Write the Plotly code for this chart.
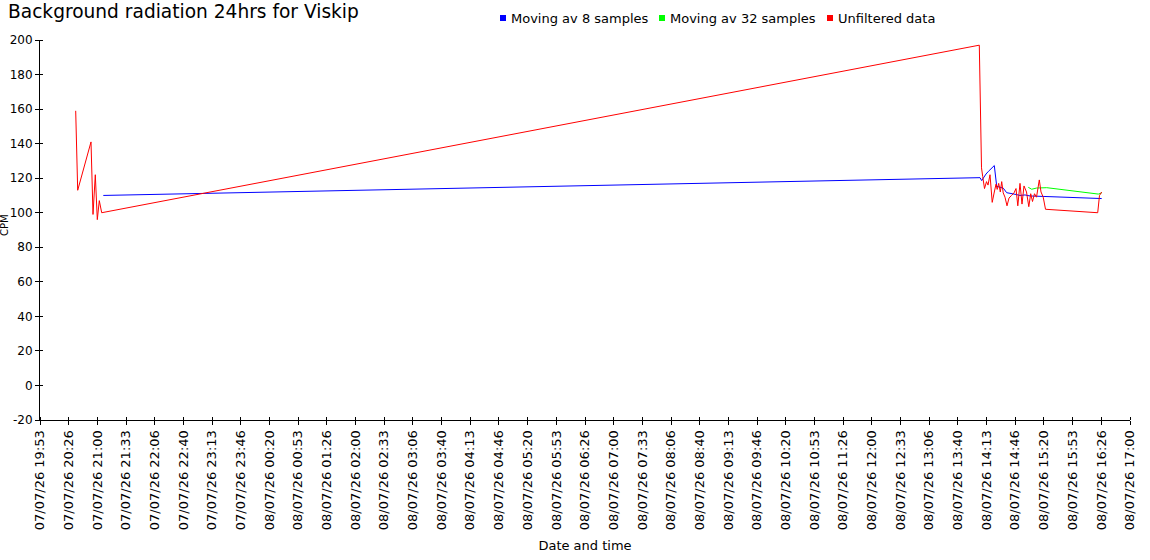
import numpy as np
import pandas as pd
import plotly.graph_objects as go

# ---------------- data ----------------
red_times = [
    "2026-07-07 20:34:30", "2026-07-07 20:36:49", "2026-07-07 20:52:17", "2026-07-07 20:54:37",
    "2026-07-07 20:57:17", "2026-07-07 20:59:36", "2026-07-07 21:01:56", "2026-07-07 21:04:43",
    "2026-07-08 14:04:50", "2026-07-08 14:07:23", "2026-07-08 14:08:47", "2026-07-08 14:10:53",
    "2026-07-08 14:13:12", "2026-07-08 14:14:57", "2026-07-08 14:17:16", "2026-07-08 14:19:50",
    "2026-07-08 14:22:16", "2026-07-08 14:24:15", "2026-07-08 14:25:38", "2026-07-08 14:27:23",
    "2026-07-08 14:29:14", "2026-07-08 14:30:52", "2026-07-08 14:32:37", "2026-07-08 14:34:43",
    "2026-07-08 14:37:02", "2026-07-08 14:39:21", "2026-07-08 14:42:16", "2026-07-08 14:45:10",
    "2026-07-08 14:47:30", "2026-07-08 14:49:35", "2026-07-08 14:52:09", "2026-07-08 14:54:28",
    "2026-07-08 14:56:48", "2026-07-08 14:59:42", "2026-07-08 15:02:22", "2026-07-08 15:04:35",
    "2026-07-08 15:06:40", "2026-07-08 15:09:00", "2026-07-08 15:11:19", "2026-07-08 15:14:34",
    "2026-07-08 15:16:33", "2026-07-08 15:19:07", "2026-07-08 15:21:47", "2026-07-08 16:22:28",
    "2026-07-08 16:24:33", "2026-07-08 16:27:06",
]
red_values = [
    159, 113, 141, 99, 122, 96, 107, 100,
    197, 126, 121, 114, 118, 116, 122, 106,
    112, 116.5, 113.5, 117, 112, 118, 111.5, 109,
    104, 108.5, 110, 111.5, 114, 104, 117, 105,
    115.5, 112, 103.5, 111, 106.5, 111, 109, 119,
    112, 109, 102, 100, 110, 112,
]

blue_times = [
    "2026-07-07 21:06:35", "2026-07-08 14:05:39", "2026-07-08 14:07:37", "2026-07-08 14:10:18",
    "2026-07-08 14:12:37", "2026-07-08 14:15:32", "2026-07-08 14:19:15", "2026-07-08 14:22:16",
    "2026-07-08 14:25:04", "2026-07-08 14:28:05", "2026-07-08 14:32:44", "2026-07-08 14:36:41",
    "2026-07-08 14:42:29", "2026-07-08 14:46:20", "2026-07-08 14:52:08", "2026-07-08 14:57:57",
    "2026-07-08 15:03:46", "2026-07-08 15:11:33", "2026-07-08 15:21:12", "2026-07-08 16:27:06",
]
blue_values = [
    110, 120.3, 118.6, 121, 122.4, 124, 125.6, 127.3,
    115.3, 114.7, 114.2, 111.6, 111.3, 110.7, 110, 110.3,
    109.7, 109.7, 109.4, 108.2,
]

green_times = [
    "2026-07-08 15:01:47", "2026-07-08 15:05:44", "2026-07-08 15:11:33",
    "2026-07-08 15:23:11", "2026-07-08 16:23:10", "2026-07-08 16:27:06",
]
green_values = [114.7, 113.6, 114.3, 114.5, 110.8, 111.5]

series_names = ["Moving av 8 samples", "Moving av 32 samples", "Unfiltered data"]
series_colors = ["#0000ff", "#00ff00", "#ff0000"]

x_start = "2026-07-07 19:53:00"
x_end = "2026-07-08 17:00:00"
tick_labels = [
    "07/07/26 19:53", "07/07/26 20:26", "07/07/26 21:00", "07/07/26 21:33", "07/07/26 22:06",
    "07/07/26 22:40", "07/07/26 23:13", "07/07/26 23:46", "08/07/26 00:20", "08/07/26 00:53",
    "08/07/26 01:26", "08/07/26 02:00", "08/07/26 02:33", "08/07/26 03:06", "08/07/26 03:40",
    "08/07/26 04:13", "08/07/26 04:46", "08/07/26 05:20", "08/07/26 05:53", "08/07/26 06:26",
    "08/07/26 07:00", "08/07/26 07:33", "08/07/26 08:06", "08/07/26 08:40", "08/07/26 09:13",
    "08/07/26 09:46", "08/07/26 10:20", "08/07/26 10:53", "08/07/26 11:26", "08/07/26 12:00",
    "08/07/26 12:33", "08/07/26 13:06", "08/07/26 13:40", "08/07/26 14:13", "08/07/26 14:46",
    "08/07/26 15:20", "08/07/26 15:53", "08/07/26 16:26", "08/07/26 17:00",
]
y_tick_values = [-20, 0, 20, 40, 60, 80, 100, 120, 140, 160, 180, 200]
y_tick_labels = ["-20", "0", "20", "40", "60", "80", "100", "120", "140", "160", "180", "200"]

# ---------------- layout constants (pixels) ----------------
FONT = "DejaVu Sans, Verdana, sans-serif"
W, H = 1150, 560
ML, MR, MT, MB = 40, 20, 40, 140
PW, PH = W - ML - MR, H - MT - MB


def px_x(px):
    return (px - ML) / PW


def px_y(py):
    return (H - MB - py) / PH


legend_square_x = [503, 662, 830]
legend_text_x = [509, 668, 836]
legend_y = 18

# ---------------- figure ----------------
t0 = pd.Timestamp(x_start)
t1 = pd.Timestamp(x_end)
tick_vals = [t0 + (t1 - t0) * f for f in np.linspace(0, 1, len(tick_labels))]
tick_vals = [t.strftime("%Y-%m-%d %H:%M:%S.%f") for t in tick_vals]

fig = go.Figure()
data = [(blue_times, blue_values), (green_times, green_values), (red_times, red_values)]
for (xs, ys), name, col in zip(data, series_names, series_colors):
    fig.add_trace(go.Scatter(x=xs, y=ys, mode="lines", name=name,
                             line=dict(color=col, width=1), hoverinfo="x+y+name"))

fig.update_layout(
    width=W, height=H,
    margin=dict(l=ML, r=MR, t=MT, b=MB, autoexpand=False),
    paper_bgcolor="white", plot_bgcolor="white",
    font=dict(family=FONT, size=12, color="black"),
    title=dict(text="Background radiation 24hrs for Viskip",
               x=8 / W, xanchor="left", y=1 - 11 / H, yanchor="middle",
               font=dict(family=FONT, size=18.6, color="black")),
    showlegend=False,
)

# legend drawn as coloured squares + real text labels
for sx, tx, name, col in zip(legend_square_x, legend_text_x, series_names, series_colors):
    fig.add_shape(type="rect", xref="paper", yref="paper",
                  x0=px_x(sx - 3), x1=px_x(sx + 3), y0=px_y(legend_y + 3), y1=px_y(legend_y - 3),
                  fillcolor=col, line=dict(width=0))
    fig.add_annotation(text=name, xref="paper", yref="paper", x=px_x(tx), y=px_y(legend_y),
                       xanchor="left", yanchor="middle", showarrow=False,
                       font=dict(family=FONT, size=13, color="black"))

fig.update_xaxes(
    type="date", range=[x_start, x_end],
    tickmode="array", tickvals=tick_vals, ticktext=tick_labels, tickangle=-90,
    showline=True, linecolor="black", linewidth=1, mirror=False,
    ticks="outside", ticklen=4, tickcolor="black", tickwidth=1,
    minor=dict(tickmode="array", tickvals=tick_vals, ticks="inside", ticklen=3,
               tickcolor="black", showgrid=False),
    showgrid=False, zeroline=False,
    tickfont=dict(family=FONT, size=13, color="black"),
    title=dict(text="Date and time", font=dict(family=FONT, size=13, color="black"), standoff=11),
    automargin=False,
)
fig.update_yaxes(
    range=[-20, 200], tickmode="array", tickvals=y_tick_values, ticktext=y_tick_labels,
    showline=True, linecolor="black", linewidth=1,
    ticks="outside", ticklen=4, tickcolor="black", tickwidth=1,
    minor=dict(tickmode="array", tickvals=y_tick_values, ticks="inside", ticklen=3,
               tickcolor="black", showgrid=False),
    showgrid=False, zeroline=False,
    tickfont=dict(family=FONT, size=12, color="black"),
    automargin=False,
)
fig.add_annotation(text="CPM", textangle=-90, xref="paper", yref="paper",
                   x=px_x(5), y=px_y(225), showarrow=False,
                   xanchor="center", yanchor="middle",
                   font=dict(family=FONT, size=10, color="black"))

# remove the browser's default page margin so the figure sits at the window's corner
fig.write_html("out.html", config={"displayModeBar": False},
               post_script="document.body.style.margin='0';")
